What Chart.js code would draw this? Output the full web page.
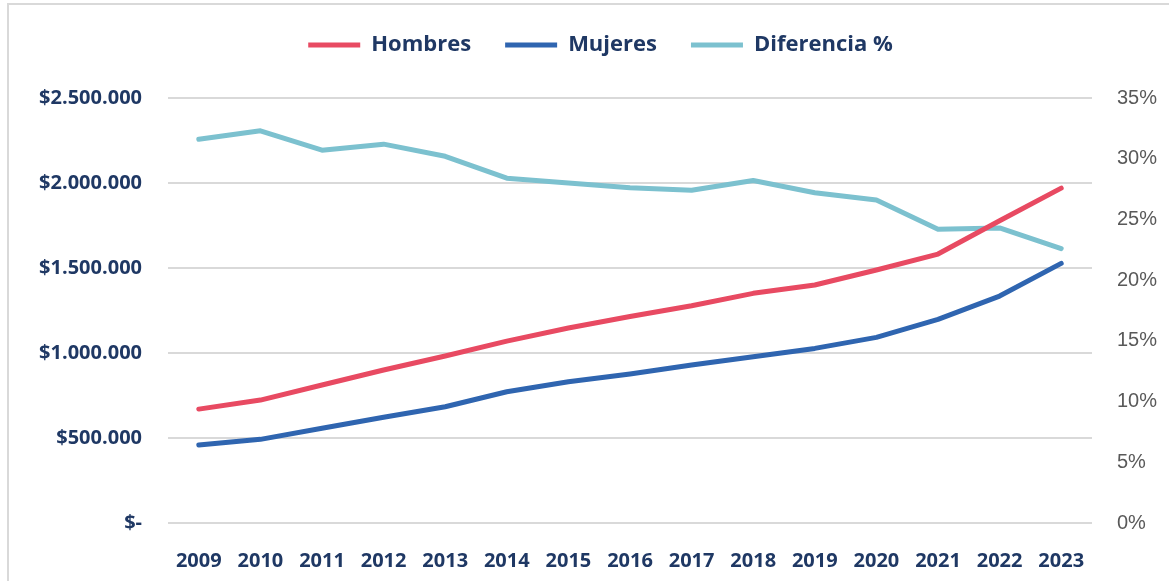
<!DOCTYPE html>
<html><head><meta charset="utf-8">
<script src="https://cdn.jsdelivr.net/npm/chart.js@4.4.1/dist/chart.umd.min.js"></script>
<style>
html,body{margin:0;padding:0;background:#fff;overflow:hidden}
#wrap{position:relative;width:1169px;height:581px}
#frame{position:absolute;left:7px;top:3px;right:0;bottom:0;border-left:2px solid #d9d9d9;border-top:2px solid #d9d9d9}
canvas{position:absolute;left:0;top:0}
</style></head><body>
<div id="wrap"><div id="frame"></div><canvas id="c" width="1169" height="581"></canvas></div>
<script>
const years = ['2009','2010','2011','2012','2013','2014','2015','2016','2017','2018','2019','2020','2021','2022','2023'];
const hombres = [670000,723000,812000,900000,982000,1070000,1147000,1215000,1278000,1351000,1400000,1488000,1582000,1778000,1970000];
const mujeres = [459000,492000,557000,622000,684000,772000,831000,876000,929000,978000,1027000,1092000,1198000,1335000,1527000];
const diferencia = [31.6,32.3,30.7,31.2,30.2,28.4,28.0,27.6,27.4,28.2,27.2,26.6,24.2,24.3,22.6];
const seriesNames = ['Hombres','Mujeres','Diferencia %'];
const seriesColors = ['#e84a62','#2f65b0','#7cc1cf'];

const navy = '#1f3864';

const legendFix = {
  id: 'legendFix',
  beforeInit(chart) {
    const lg = chart.legend;
    const f = lg.fit;
    lg.fit = function () { f.call(this); this.height = 98; };
  },
  afterLayout(chart) {
    chart.legend.left += 16;
    chart.legend.right += 16;
  }
};

function money(v) {
  if (v === 0) return '$-';
  return '$' + Math.round(v).toString().replace(/\B(?=(\d{3})+(?!\d))/g, '.');
}

const mk = (i, data, axis) => ({
  label: seriesNames[i],
  data: data,
  yAxisID: axis,
  borderColor: seriesColors[i],
  backgroundColor: seriesColors[i],
  borderWidth: 5,
  borderCapStyle: 'round',
  borderJoinStyle: 'round',
  pointRadius: 0,
  pointHoverRadius: 0,
  tension: 0,
  fill: false
});

new Chart(document.getElementById('c'), {
  type: 'line',
  data: {
    labels: years,
    datasets: [mk(0, hombres, 'y'), mk(1, mujeres, 'y'), mk(2, diferencia, 'y2')]
  },
  options: {
    responsive: false,
    animation: false,
    layout: { padding: 0 },
    plugins: {
      tooltip: { enabled: false },
      legend: {
        position: 'top',
        labels: {
          usePointStyle: true,
          pointStyle: 'line',
          pointStyleWidth: 52,
          padding: 34,
          color: navy,
          font: { family: '"Open Sans"', size: 22, weight: 'bold' }
        }
      }
    },
    scales: {
      x: {
        offset: true,
        grid: { display: false },
        border: { display: false },
        ticks: { color: navy, padding: 18, font: { family: '"Open Sans"', size: 20, weight: 'bold' }, maxRotation: 0 },
        afterFit(s) { s.height = 58; }
      },
      y: {
        position: 'left',
        min: 0, max: 2500000,
        ticks: { stepSize: 500000, color: navy, padding: 26, callback: money,
                 font: { family: '"Open Sans"', size: 20, weight: 'bold' } },
        grid: { color: '#d9d9d9', lineWidth: 2, drawTicks: false },
        border: { display: false },
        afterFit(s) { s.width = 168; }
      },
      y2: {
        position: 'right',
        min: 0, max: 35,
        ticks: { stepSize: 5, color: '#595959', padding: 25, callback: v => v + '%',
                 font: { family: '"Liberation Sans"', size: 20 } },
        grid: { display: false, drawTicks: false },
        border: { display: false },
        afterFit(s) { s.width = 77; }
      }
    }
  },
  plugins: [legendFix]
});
</script>
</body></html>
